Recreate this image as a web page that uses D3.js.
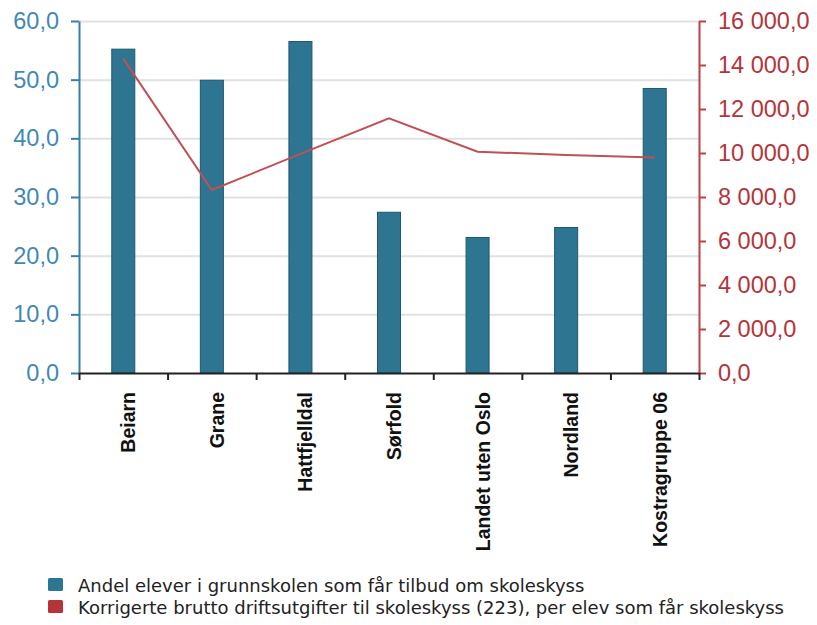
<!DOCTYPE html>
<html>
<head>
<meta charset="utf-8">
<script src="https://cdn.jsdelivr.net/npm/d3@7"></script>
<style>
  html, body { margin: 0; padding: 0; background: #fff; }
  svg { display: block; }
</style>
</head>
<body>
<svg id="chart" width="817" height="625"></svg>
<script>
// ---- data ----
const categories = ["Beiarn", "Grane", "Hattfjelldal", "Sørfold", "Landet uten Oslo", "Nordland", "Kostragruppe 06"];
const shareValues = [55.2, 49.9, 56.5, 27.4, 23.1, 24.8, 48.5];
const costValues = [14290, 8320, 9960, 11580, 10060, 9910, 9790];
const leftTicks = [0, 10, 20, 30, 40, 50, 60];
const rightTicks = [0, 2000, 4000, 6000, 8000, 10000, 12000, 14000, 16000];
const legendLabels = [
  "Andel elever i grunnskolen som får tilbud om skoleskyss",
  "Korrigerte brutto driftsutgifter til skoleskyss (223), per elev som får skoleskyss"
];

// ---- layout ----
const plotLeft = 79, plotRight = 699, plotTop = 21, plotBottom = 373;
const barColor = "#2e7592", barStroke = "#1e5773";
const lineColor = "#c05054";
const leftColor = "#4289b4", leftAxisColor = "#3a7ea6";
const rightColor = "#b5343a", rightAxisColor = "#bf4045";

const svg = d3.select("#chart");
const loc = d3.formatLocale({decimal: ",", thousands: " ", grouping: [3], currency: ["", ""]});
const fmt = loc.format(",.1f");

const x = d3.scaleBand().domain(categories).range([plotLeft, plotRight]).paddingInner(0).paddingOuter(0);
const xEdge = d3.scaleLinear().domain([0, categories.length]).range([plotLeft, plotRight]);
const yL = d3.scaleLinear().domain([0, 60]).range([plotBottom, plotTop]);
const yR = d3.scaleLinear().domain([0, 16000]).range([plotBottom, plotTop]);

// gridlines
const grid = svg.append("g").attr("transform", `translate(${plotLeft},0)`)
  .call(d3.axisLeft(yL).tickValues(leftTicks.filter(d => d > 0)).tickSize(-(plotRight - plotLeft)).tickFormat(""));
grid.select(".domain").remove();
grid.selectAll("line").attr("stroke", "#e1e1e1").attr("stroke-width", 2);

// bars
const bw = x.bandwidth() * 0.26;
svg.append("g").selectAll("rect").data(categories).join("rect")
  .attr("x", (d) => x(d) + x.bandwidth() / 2 - bw / 2)
  .attr("y", (d, i) => yL(shareValues[i]))
  .attr("width", bw)
  .attr("height", (d, i) => plotBottom - yL(shareValues[i]))
  .attr("fill", barColor)
  .attr("stroke", barStroke)
  .attr("stroke-width", 1);

// line
const line = d3.line()
  .x((d, i) => x(categories[i]) + x.bandwidth() / 2)
  .y(d => yR(d));
svg.append("path").datum(costValues)
  .attr("d", line)
  .attr("fill", "none")
  .attr("stroke", lineColor)
  .attr("stroke-width", 2);

// left axis
const la = svg.append("g").attr("transform", `translate(${plotLeft},0)`)
  .call(d3.axisLeft(yL).tickValues(leftTicks).tickSize(8).tickSizeOuter(0).tickPadding(12).tickFormat(fmt));
la.select(".domain").attr("stroke", leftAxisColor).attr("stroke-width", 2);
la.selectAll(".tick line").attr("stroke", leftAxisColor).attr("stroke-width", 2);
la.selectAll("text").attr("fill", leftColor)
  .style("font-family", "'Liberation Sans', Arial, sans-serif").style("font-size", "23.5px");

// right axis
const ra = svg.append("g").attr("transform", `translate(${plotRight},0)`)
  .call(d3.axisRight(yR).tickValues(rightTicks).tickSize(7).tickSizeOuter(0).tickPadding(12).tickFormat(fmt));
ra.select(".domain").attr("stroke", rightAxisColor).attr("stroke-width", 2);
ra.selectAll(".tick line").attr("stroke", rightAxisColor).attr("stroke-width", 2);
ra.selectAll("text").attr("fill", rightColor)
  .style("font-family", "'Liberation Sans', Arial, sans-serif").style("font-size", "23.5px");

// bottom axis
const ba = svg.append("g").attr("transform", `translate(0,${plotBottom})`)
  .call(d3.axisBottom(xEdge).tickValues(d3.range(categories.length + 1)).tickSize(7).tickSizeOuter(0).tickFormat(""));
ba.select(".domain").attr("stroke", "#222").attr("stroke-width", 2);
ba.selectAll(".tick line").attr("stroke", "#222").attr("stroke-width", 2);

// category labels (rotated)
svg.append("g").selectAll("text").data(categories).join("text")
  .attr("transform", d => `translate(${x(d) + x.bandwidth() / 2},392) rotate(-90)`)
  .attr("text-anchor", "end")
  .attr("dy", "12")
  .attr("fill", "#111")
  .style("font-family", "'Liberation Sans', Arial, sans-serif")
  .style("font-size", "19.5px")
  .style("font-weight", "bold")
  .text(d => d);

// legend
const legendColors = [barColor, rightColor];
const lg = svg.append("g");
legendLabels.forEach((t, i) => {
  const yb = 592 + i * 22;
  lg.append("rect").attr("x", 48).attr("y", yb - 14).attr("width", 15).attr("height", 13)
    .attr("rx", 1.5).attr("fill", legendColors[i]);
  lg.append("text").attr("x", 78).attr("y", yb).attr("fill", "#222")
    .style("font-family", "'DejaVu Sans', sans-serif").style("font-size", "18px")
    .text(t);
});
</script>
</body>
</html>
